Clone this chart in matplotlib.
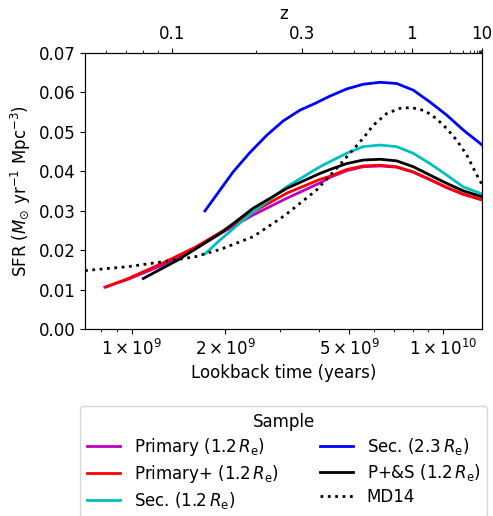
import numpy as np
import matplotlib
matplotlib.use("Agg")
import matplotlib.pyplot as plt

plt.rcParams['font.size'] = 12

# lookback time (Gyr) and SFR values
prim_t = [0.82, 0.975, 1.25, 1.60, 1.95, 2.46, 3.15, 4.03, 4.34, 4.91, 5.55, 6.29, 7.11, 8.05, 9.1, 10.3, 11.65, 13.4]
prim_y = [0.0106, 0.0126, 0.0161, 0.0203, 0.0244, 0.0289, 0.0331, 0.0370, 0.0384, 0.0401, 0.0411, 0.0413,
          0.0410, 0.0397, 0.0378, 0.0358, 0.0341, 0.0327]

primp_t = [0.83, 0.975, 1.25, 1.60, 1.95, 2.46, 3.15, 4.03, 4.34, 4.91, 5.55, 6.29, 7.11, 8.05, 9.1, 10.3, 11.65, 13.4]
primp_y = [0.0107, 0.0128, 0.0166, 0.0207, 0.0247, 0.0297, 0.0344, 0.0379, 0.0387, 0.0404, 0.0413, 0.0415,
           0.0411, 0.0398, 0.0379, 0.0359, 0.0342, 0.0327]

sec_t = [1.72, 1.92, 2.46, 3.15, 4.03, 4.34, 4.91, 5.55, 6.29, 7.11, 8.05, 9.1, 10.3, 11.65, 13.4]
sec_y = [0.0190, 0.0225, 0.0297, 0.0360, 0.0411, 0.0424, 0.0445, 0.0462, 0.0466, 0.0462, 0.0445, 0.0419,
         0.0390, 0.0360, 0.0342]

sec23_t = [1.72, 2.12, 2.40, 2.72, 3.07, 3.47, 3.9, 4.34, 4.91, 5.55, 6.29, 7.11, 8.05, 9.1, 10.3, 11.65, 13.4]
sec23_y = [0.0299, 0.0398, 0.0447, 0.0491, 0.0527, 0.0554, 0.0572, 0.0590, 0.0608, 0.0620, 0.0625, 0.0622,
           0.0605, 0.0575, 0.0542, 0.0504, 0.0466]

ps_t = [1.09, 1.41, 1.95, 2.46, 3.15, 4.03, 4.34, 4.91, 5.55, 6.29, 7.11, 8.05, 9.1, 10.3, 11.65, 13.4]
ps_y = [0.0128, 0.0175, 0.0245, 0.0306, 0.0356, 0.0394, 0.0404, 0.0419, 0.0428, 0.0430, 0.0426, 0.0411,
        0.0390, 0.0369, 0.0350, 0.0335]

md_t = [0.708, 0.975, 1.25, 1.60, 1.95, 2.46, 3.1, 3.93, 4.56, 5.03, 5.55, 5.98, 6.61, 7.29, 7.93, 8.77,
        9.55, 10.3, 11.1, 11.95, 12.8, 13.4]
md_y = [0.0148, 0.0158, 0.0170, 0.0183, 0.0203, 0.0234, 0.0287, 0.0352, 0.0407, 0.0445, 0.0483, 0.0516,
        0.0546, 0.0559, 0.0561, 0.0553, 0.0533, 0.0508, 0.0478, 0.0441, 0.0394, 0.0365]

series = [
    (prim_t, prim_y, 'm', '-', r'Primary (1.2$\,R_\mathrm{e}$)'),
    (primp_t, primp_y, 'r', '-', r'Primary+ (1.2$\,R_\mathrm{e}$)'),
    (sec_t, sec_y, 'c', '-', r'Sec. (1.2$\,R_\mathrm{e}$)'),
    (sec23_t, sec23_y, 'b', '-', r'Sec. (2.3$\,R_\mathrm{e}$)'),
    (ps_t, ps_y, 'k', '-', r'P+&S (1.2$\,R_\mathrm{e}$)'),
    (md_t, md_y, 'k', ':', 'MD14'),
]

bottom_ticks = [1e9, 2e9, 5e9, 1e10]
bottom_labels = [r'$1\times10^{9}$', r'$2\times10^{9}$', r'$5\times10^{9}$', r'$1\times10^{10}$']
z_major = [0.1, 0.3, 1, 10]
z_major_labels = ['0.1', '0.3', '1', '10']
z_minor = [0.06, 0.07, 0.08, 0.09, 0.2, 0.4, 0.5, 0.6, 0.7, 0.8, 0.9, 2, 3, 4, 5, 6, 7, 8, 9]


def lookback(z):
    # flat LCDM, Planck15-like
    H0, Om = 67.74, 0.3075
    zz = np.linspace(0, z, 4000)
    f = 1.0 / ((1 + zz) * np.sqrt(Om * (1 + zz) ** 3 + 1 - Om))
    return 977.8 / H0 * np.trapezoid(f, zz) * 1e9


fig = plt.figure(figsize=(4.93, 5.16), dpi=100)
ax = fig.add_axes([0.1724, 0.3624, 0.8059, 0.5355])

for t, y, c, ls, lab in series:
    ax.plot(np.array(t) * 1e9, y, color=c, ls=ls, lw=2, label=lab)

xlim = (7.08e8, 1.341e10)
ax.set_xscale('log')
ax.set_xticks(bottom_ticks, bottom_labels)
minor = [m * 1e8 for m in (7, 8, 9)] + [m * 1e9 for m in (3, 4, 6, 7, 8, 9)]
ax.set_xticks(minor, minor=True)
ax.set_xticklabels([], minor=True)
ax.set_xlim(xlim)
ax.set_ylim(0, 0.07)
ax.set_xlabel('Lookback time (years)')
ax.set_ylabel(r'SFR ($M_{\odot}$ yr$^{-1}$ Mpc$^{-3}$)')

ax2 = ax.twiny()
ax2.set_xscale('log')
ax2.set_xticks([lookback(z) for z in z_major], z_major_labels)
ax2.set_xticks([lookback(z) for z in z_minor], minor=True)
ax2.set_xticklabels([], minor=True)
ax2.set_xlim(xlim)
ax2.set_xlabel('z')

ax.legend(title='Sample', ncol=2, loc='upper center', bbox_to_anchor=(0.5, -0.248),
          labelspacing=0.3, columnspacing=2.5)

fig.savefig('out.png', dpi=100)
